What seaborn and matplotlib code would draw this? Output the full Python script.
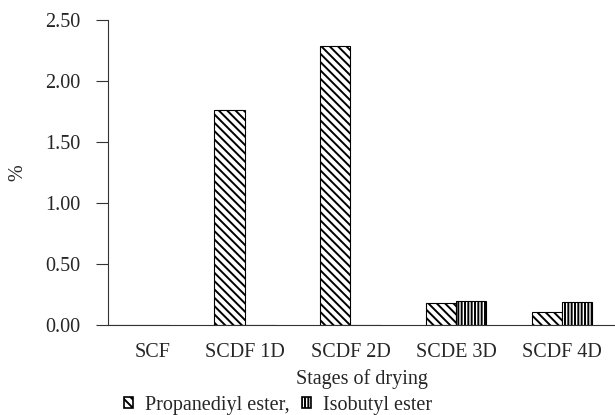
import matplotlib
matplotlib.use("Agg")
import matplotlib.pyplot as plt
import matplotlib.transforms as mtransforms
import seaborn as sns
import pandas as pd
from matplotlib.patches import Patch

categories = ["SCF", "SCDF 1D", "SCDF 2D", "SCDE 3D", "SCDF 4D"]
propanediyl = [0.0, 1.76, 2.29, 0.18, 0.11]
isobutyl = [0.0, 0.0, 0.0, 0.20, 0.19]
series = ["Propanediyl ester", "Isobutyl ester"]
yticks = [0.0, 0.5, 1.0, 1.5, 2.0, 2.5]

sns.set_theme(style="ticks")
plt.rcParams["font.family"] = ["Liberation Serif", "DejaVu Serif"]
plt.rcParams["hatch.linewidth"] = 1.4

df = pd.DataFrame({
    "cat": categories * 2,
    "series": [series[0]] * len(categories) + [series[1]] * len(categories),
    "val": propanediyl + isobutyl,
})

FS = 14.5
fig = plt.figure(figsize=(6.15, 4.15), dpi=100)
ax = fig.add_axes([108 / 615, 90 / 415, 1 - 108 / 615, 305 / 415])
sns.barplot(data=df, x="cat", y="val", hue="series", order=categories,
            hue_order=series, palette=["white", "white"], width=0.57,
            edgecolor="black", linewidth=0.8, legend=False, ax=ax)

hatches = ["\\\\\\\\", "|||||"]
n = len(categories)
for i, bar in enumerate(ax.patches[:2 * n]):
    bar.set_hatch(hatches[i // n])

ax.set_xlim(-0.29, 4.5)
ax.set_ylim(0, 2.5)
ax.set_yticks(yticks)
ax.set_yticklabels([f"{v:.2f}" for v in yticks], fontsize=FS)
ax.tick_params(axis="y", length=9, width=0.8, pad=11, color="#333333")
ax.tick_params(axis="x", length=0, pad=13, labelsize=FS)
ax.set_xlabel("Stages of drying", fontsize=FS, labelpad=5)
ax.set_ylabel("%", fontsize=FS, labelpad=13)
for s in ["top", "right"]:
    ax.spines[s].set_visible(False)
for s in ["left", "bottom"]:
    ax.spines[s].set_linewidth(0.8)
    ax.spines[s].set_color("#333333")

# first category label sits slightly right of its slot in the reference
lbl = ax.get_xticklabels()[0]
lbl.set_transform(lbl.get_transform() + mtransforms.ScaledTranslation(14 / 100, 0, fig.dpi_scale_trans))

handles = [Patch(facecolor="white", edgecolor="black", linewidth=1.2, hatch=h)
           for h in ["\\\\\\\\", "|||||"]]
fig.legend(handles, ["Propanediyl ester,", "Isobutyl ester"], loc="center left",
           bbox_to_anchor=(124 / 615, 1 - 405 / 415), ncol=2, frameon=False,
           fontsize=FS, handlelength=0.45, handleheight=0.45, handletextpad=0.6,
           columnspacing=0.6, borderpad=0, borderaxespad=0)

fig.savefig("out.png", dpi=100)
